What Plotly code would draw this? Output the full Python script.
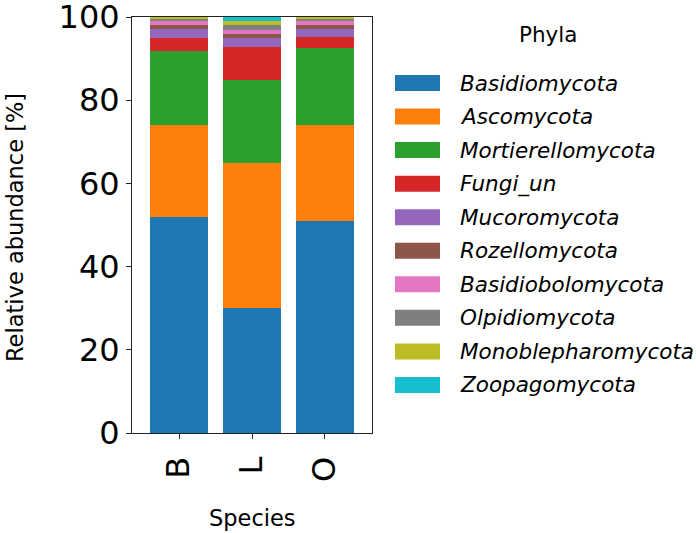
import plotly.graph_objects as go

species = ["B", "L", "O"]
phyla = ["Basidiomycota", "Ascomycota", "Mortierellomycota", "Fungi_un", "Mucoromycota",
         "Rozellomycota", "Basidiobolomycota", "Olpidiomycota", "Monoblepharomycota", "Zoopagomycota"]
colors = ["#1f77b4", "#ff7f0e", "#2ca02c", "#d62728", "#9467bd",
          "#8c564b", "#e377c2", "#7f7f7f", "#bcbd22", "#17becf"]

basidiomycota = [52.0, 30.0, 51.0]
ascomycota = [22.0, 35.0, 23.0]
mortierellomycota = [17.8, 19.8, 18.5]
fungi_un = [3.1, 8.1, 2.7]
mucoromycota = [2.1, 2.0, 2.0]
rozellomycota = [1.0, 1.1, 0.9]
basidiobolomycota = [1.0, 0.9, 1.1]
olpidiomycota = [0.6, 1.1, 0.4]
monoblepharomycota = [0.4, 1.0, 0.4]
zoopagomycota = [0.0, 1.0, 0.0]

values = [basidiomycota, ascomycota, mortierellomycota, fungi_un, mucoromycota,
          rozellomycota, basidiobolomycota, olpidiomycota, monoblepharomycota, zoopagomycota]

FONT = "DejaVu Sans"

fig = go.Figure()
for name, vals, col in zip(phyla, values, colors):
    fig.add_trace(go.Bar(x=species, y=vals, name=name, marker=dict(color=col, line=dict(width=0)),
                         width=0.8, showlegend=False))

# plot area in pixels
L, R, T, B = 132, 372, 17, 433
pw, ph = R - L, B - T

def px_x(p):
    return (p - L) / pw

def px_y(p):
    return (B - p) / ph

shapes = []
annotations = []
for i, (name, col) in enumerate(zip(phyla, colors)):
    cy = 83 + 33.55 * i
    shapes.append(dict(type="rect", xref="paper", yref="paper",
                       x0=px_x(395), x1=px_x(440), y0=px_y(cy + 8), y1=px_y(cy - 8),
                       fillcolor=col, line=dict(width=0)))
    annotations.append(dict(xref="paper", yref="paper", x=px_x(458), y=px_y(cy),
                            xanchor="left", yanchor="middle", showarrow=False,
                            text="<i>%s</i>" % name, font=dict(family=FONT, size=21.5, color="black")))
annotations.append(dict(xref="paper", yref="paper", x=px_x(548), y=px_y(35),
                        xanchor="center", yanchor="middle", showarrow=False,
                        text="Phyla", font=dict(family=FONT, size=21.5, color="black")))
annotations.append(dict(xref="paper", yref="paper", x=px_x(15), y=px_y(228),
                        xanchor="center", yanchor="middle", showarrow=False, textangle=-90,
                        text="Relative abundance [%]", font=dict(family=FONT, size=22.5, color="black")))
annotations.append(dict(xref="paper", yref="paper", x=px_x(252), y=px_y(518),
                        xanchor="center", yanchor="middle", showarrow=False,
                        text="Species", font=dict(family=FONT, size=22.5, color="black")))

fig.update_layout(
    barmode="stack",
    width=696, height=533,
    margin=dict(l=L, r=696 - R, t=T, b=533 - B, autoexpand=False),
    plot_bgcolor="white", paper_bgcolor="white",
    font=dict(family=FONT, color="black"),
    shapes=shapes, annotations=annotations,
    bargap=0.2,
)
fig.update_xaxes(range=[-0.644, 2.644], showline=True, linecolor="#222", linewidth=1, mirror=True,
                 ticks="outside", ticklen=5, tickcolor="#222", tickangle=-90, ticklabelstandoff=5,
                 automargin=False,
                 tickfont=dict(family=FONT, size=32, color="black"), showgrid=False)
fig.update_yaxes(range=[0, 100], tickvals=[0, 20, 40, 60, 80, 100], ticktext=["0", "20", "40", "60", "80", "100"],
                 showline=True, linecolor="#222", ticklabeloverflow="allow", automargin=False,
                 linewidth=1, mirror=True, ticks="outside", ticklen=5, tickcolor="#222",
                 tickfont=dict(family=FONT, size=32, color="black"), showgrid=False, zeroline=False)

fig.write_html("out.html")
